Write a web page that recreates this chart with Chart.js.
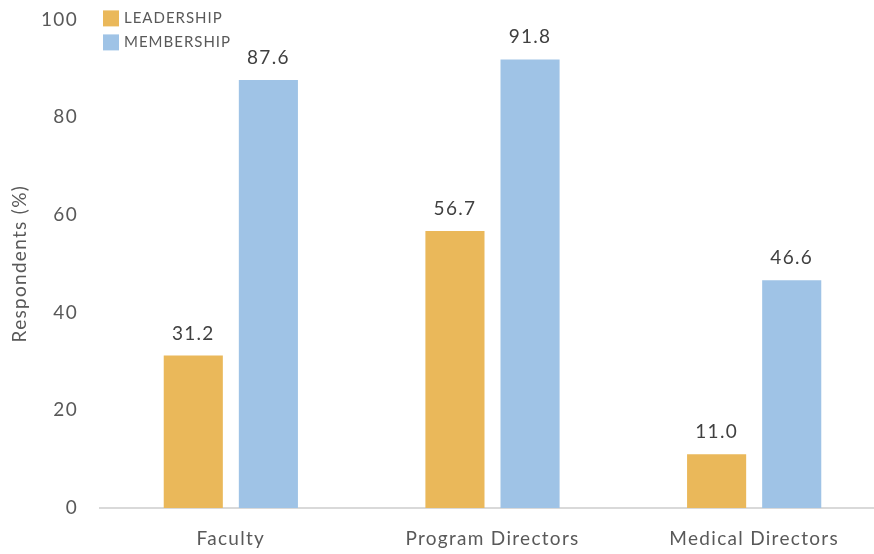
<!DOCTYPE html>
<html>
<head>
<meta charset="utf-8">
<script src="https://cdn.jsdelivr.net/npm/chart.js@4.4.0/dist/chart.umd.min.js"></script>
<style>
  html, body { margin: 0; padding: 0; background: #fff; overflow: hidden; }
  #wrap { width: 886px; height: 554px; }
</style>
</head>
<body>
<div id="wrap"><canvas id="build-graph"></canvas></div>
<script>
const categorias = ['Faculty', 'Program Directors', 'Medical Directors'];
const lideranca = [31.2, 56.7, 11.0];
const membros = [87.6, 91.8, 46.6];
const ticksY = [0, 20, 40, 60, 80, 100];

const corOuro = '#EAB85A';
const corAzul = '#9FC3E6';
const fonte = 'Lato, "Open Sans", sans-serif';

// texto um pouco mais espacado
const espaco = {
    id: 'espaco',
    beforeDraw(chart){ chart.ctx.letterSpacing = '1.3px'; }
};

// rotulos de valor em cima de cada barra + legenda no canto
const extras = {
    id: 'extras',
    afterDatasetsDraw(chart){
        let ctx = chart.ctx;
        ctx.save();
        ctx.letterSpacing = '1.3px';
        ctx.font = '19px ' + fonte;
        ctx.fillStyle = '#404040';
        ctx.textAlign = 'center';
        ctx.textBaseline = 'alphabetic';
        chart.data.datasets.forEach((ds, i) => {
            chart.getDatasetMeta(i).data.forEach((bar, j) => {
                ctx.fillText(ds.data[j].toFixed(1), bar.x, bar.y - 16);
            });
        });

        let area = chart.chartArea;
        let x = area.left + 3;
        let y = area.top - 9;
        ctx.letterSpacing = '1px';
        ctx.font = '15px ' + fonte;
        ctx.textAlign = 'left';
        ctx.textBaseline = 'middle';
        chart.data.datasets.forEach((ds, i) => {
            let yy = y + i * 24;
            ctx.fillStyle = ds.backgroundColor;
            ctx.fillRect(x, yy, 16, 16);
            ctx.fillStyle = '#595959';
            ctx.fillText(ds.label, x + 21, yy + 8);
        });
        ctx.restore();
    }
};

CreateGraph('build-graph');

function CreateGraph(canva){
    let ctx = document.getElementById(canva);

    let chartGraph = new Chart(ctx, {
        type: 'bar',
        data: {
            labels: categorias,
            datasets: [{
                label: 'LEADERSHIP',
                data: lideranca,
                backgroundColor: corOuro,
                categoryPercentage: 0.574,
                barPercentage: 0.787
            }, {
                label: 'MEMBERSHIP',
                data: membros,
                backgroundColor: corAzul,
                categoryPercentage: 0.574,
                barPercentage: 0.787
            }]
        },
        options: {
            responsive: true,
            maintainAspectRatio: false,
            animation: false,
            layout: { padding: { top: 0, right: 1, bottom: 0, left: 0 } },
            plugins: {
                legend: { display: false },
                tooltip: { enabled: false }
            },
            scales: {
                x: {
                    afterFit(scale){ scale.height = 46; },
                    grid: { display: false, drawTicks: false },
                    border: { color: '#D9D9D9', width: 2 },
                    ticks: { color: '#595959', font: { family: fonte, size: 19 }, padding: 19 }
                },
                y: {
                    min: 0,
                    max: 100,
                    afterBuildTicks(axis){ axis.ticks = ticksY.map(v => ({ value: v })); },
                    afterFit(scale){ scale.width = 100; },
                    grid: { display: false, drawTicks: true, tickLength: 14 },
                    border: { display: false },
                    ticks: { color: '#595959', font: { family: fonte, size: 19 }, padding: 8 },
                    title: {
                        display: true,
                        text: 'Respondents (%)',
                        color: '#595959',
                        font: { family: fonte, size: 19 },
                        padding: { top: 8, bottom: 0 }
                    }
                }
            }
        },
        plugins: [espaco, extras]
    });
}
</script>
</body>
</html>
